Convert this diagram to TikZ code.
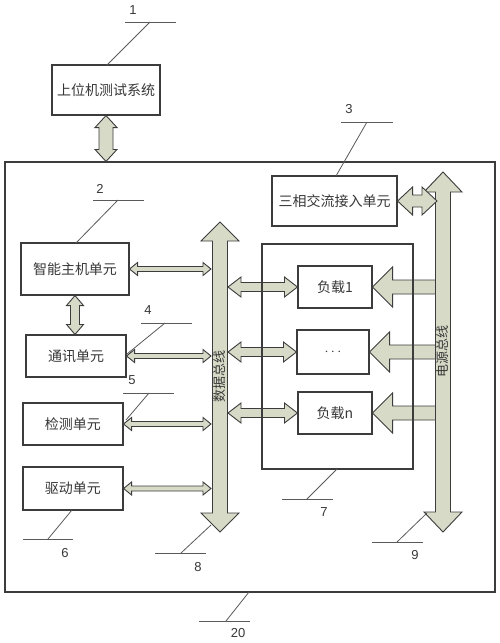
\documentclass[tikz,border=0pt]{standalone}
\usepackage{fontspec}
\setmainfont{Liberation Sans}
\newfontfamily\cjk{Noto Sans CJK SC}
\usetikzlibrary{calc}
\definecolor{barfill}{RGB}{216,218,200}
\definecolor{edgec}{RGB}{60,60,60}
\definecolor{txtc}{RGB}{55,55,55}
\definecolor{leadc}{RGB}{90,90,90}
\newcommand\HDA[5]{\path[barrow] let \p1=(#1), \p2=(#2) in (\x1,\y1) -- (\x1+#5pt,\y1+#4pt) -- (\x1+#5pt,\y1+#3pt) -- (\x2-#5pt,\y1+#3pt) -- (\x2-#5pt,\y1+#4pt) -- (\x2,\y1) -- (\x2-#5pt,\y1-#4pt) -- (\x2-#5pt,\y1-#3pt) -- (\x1+#5pt,\y1-#3pt) -- (\x1+#5pt,\y1-#4pt) -- cycle;}
\newcommand\VDA[5]{\path[barrow] let \p1=(#1), \p2=(#2) in (\x1,\y1) -- (\x1+#4pt,\y1-#5pt) -- (\x1+#3pt,\y1-#5pt) -- (\x1+#3pt,\y2+#5pt) -- (\x1+#4pt,\y2+#5pt) -- (\x1,\y2) -- (\x1-#4pt,\y2+#5pt) -- (\x1-#3pt,\y2+#5pt) -- (\x1-#3pt,\y1-#5pt) -- (\x1-#4pt,\y1-#5pt) -- cycle;}
\newcommand\LSA[5]{\path[barrow] let \p1=(#1), \p2=(#2) in (\x2,\y2) -- (\x2+#5pt,\y2+#4pt) -- (\x2+#5pt,\y2+#3pt) -- (\x1,\y2+#3pt) -- (\x1,\y2-#3pt) -- (\x2+#5pt,\y2-#3pt) -- (\x2+#5pt,\y2-#4pt) -- cycle;}
\begin{document}
\begin{tikzpicture}[x=1pt,y=-1pt,
  box/.style={draw=edgec, line width=1.1pt, fill=white, inner sep=0pt, text=txtc, font=\cjk\fontsize{14}{16}\selectfont},
  frame/.style={draw=edgec, line width=1.1pt, inner sep=0pt},
  barrow/.style={draw=edgec, line width=0.9pt, fill=barfill, line join=miter},
  lead/.style={draw=leadc, line width=0.8pt},
  num/.style={text=txtc, font=\fontsize{13}{13}\selectfont, inner sep=0pt},
  buslbl/.style={rotate=90, text=txtc, font=\cjk\fontsize{13}{13}\selectfont, inner sep=0pt}]
\useasboundingbox (0,0) rectangle (500,643);
\fill[white] (0,0) rectangle (500,643);

% outer frame
\node[frame, minimum width=490pt, minimum height=430pt] (outer) at (250,377) {};

% boxes
\node[box, minimum width=108pt, minimum height=50pt] (host) at (106,90) {上位机测试系统};
\node[box, minimum width=108pt, minimum height=52pt] (main) at (75,269) {智能主机单元};
\node[box, minimum width=100pt, minimum height=42pt] (comm) at (76,356) {通讯单元};
\node[box, minimum width=100pt, minimum height=42pt] (det) at (73,424) {检测单元};
\node[box, minimum width=100pt, minimum height=43pt] (drv) at (73,488.5) {驱动单元};
\node[box, minimum width=125pt, minimum height=50pt] (three) at (334.5,201) {三相交流接入单元};
\node[box, minimum width=74pt, minimum height=42pt] (load1) at (335,287) {负载1};
\node[box, minimum width=72pt, minimum height=44pt] (loadd) at (333,352) {\fontspec{Liberation Sans}$\cdots$};
\node[box, minimum width=74pt, minimum height=42pt] (loadn) at (335,413) {负载n};

% bus coordinates
\coordinate (dtop) at (220,222);
\coordinate (dbot) at (220,532);
\coordinate (dbin) at (211,0);
\coordinate (dbout) at (228,0);
\coordinate (ptop) at (443,172);
\coordinate (pbot) at (443,532);
\coordinate (pin) at (435.5,0);
\coordinate (pend) at (437,0);

% buses
\VDA{dtop}{dbot}{7.5}{19}{19}
\VDA{ptop}{pbot}{7.5}{19}{20}
\node[buslbl] (dlabel) at (220,376) {数据总线};
\node[buslbl] (plabel) at (443,351) {电源总线};

% vertical connectors
\VDA{host.south}{host.south |- outer.north}{7}{11}{12}
\VDA{main.south}{main.south |- comm.north}{4.5}{8.5}{10}

% unit to data bus
\HDA{main.east}{dbin |- main.east}{2.5}{6.5}{8}
\HDA{comm.east}{dbin |- comm.east}{2.5}{6.5}{8}
\HDA{det.east}{dbin |- det.east}{2.5}{6.5}{8}
\HDA{drv.east}{dbin |- drv.east}{2.5}{6.5}{8}

% data bus to loads
\HDA{dbout |- load1.west}{load1.west}{4.5}{10}{13}
\HDA{dbout |- loadd.west}{loadd.west}{4.5}{10}{13}
\HDA{dbout |- loadn.west}{loadn.west}{4.5}{10}{13}

% power bus to loads
\LSA{pin |- load1.east}{load1.east}{7}{20}{20}
\LSA{pin |- loadd.east}{loadd.east}{7}{20}{20}
\LSA{pin |- loadn.east}{loadn.east}{7}{20}{20}

% three-phase to power bus
\HDA{three.east}{pend |- three.east}{6}{14}{15}

% load group frame
\node[frame, minimum width=151pt, minimum height=225pt] (grp) at (337.5,356.5) {};

% labels
\coordinate (u1a) at (125,22); \coordinate (u1b) at (176,22); \coordinate (u1k) at (150,22); \coordinate (t1) at (107,65);
\node[num] (n1) at (133,10) {1};
\draw[lead] (u1a) -- (u1b); \draw[lead] (u1k) -- (t1);

\coordinate (u2a) at (93,200); \coordinate (u2b) at (144,200); \coordinate (u2k) at (118,200); \coordinate (t2) at (76,243);
\node[num] (n2) at (100,189) {2};
\draw[lead] (u2a) -- (u2b); \draw[lead] (u2k) -- (t2);

\coordinate (u3a) at (341,122); \coordinate (u3b) at (393,122); \coordinate (u3k) at (367,122); \coordinate (t3) at (336,176);
\node[num] (n3) at (349,109) {3};
\draw[lead] (u3a) -- (u3b); \draw[lead] (u3k) -- (t3);

\coordinate (u4a) at (141,323); \coordinate (u4b) at (192,323); \coordinate (u4k) at (165,323); \coordinate (t4) at (127,354);
\node[num] (n4) at (148,310) {4};
\draw[lead] (u4a) -- (u4b); \draw[lead] (u4k) -- (t4);

\coordinate (u5a) at (123,393); \coordinate (u5b) at (174,393); \coordinate (u5k) at (149,393); \coordinate (t5) at (126,420);
\node[num] (n5) at (132,380) {5};
\draw[lead] (u5a) -- (u5b); \draw[lead] (u5k) -- (t5);

\coordinate (u6a) at (23,539); \coordinate (u6b) at (73,539); \coordinate (u6k) at (48,539); \coordinate (t6) at (72,510);
\node[num] (n6) at (65,553) {6};
\draw[lead] (u6a) -- (u6b); \draw[lead] (u6k) -- (t6);

\coordinate (u7a) at (282,499); \coordinate (u7b) at (333,499); \coordinate (u7k) at (307,499); \coordinate (t7) at (337,469);
\node[num] (n7) at (324,512) {7};
\draw[lead] (u7a) -- (u7b); \draw[lead] (u7k) -- (t7);

\coordinate (u8a) at (155,553); \coordinate (u8b) at (206,553); \coordinate (u8k) at (181,553); \coordinate (t8) at (211,525);
\node[num] (n8) at (198,567) {8};
\draw[lead] (u8a) -- (u8b); \draw[lead] (u8k) -- (t8);

\coordinate (u9a) at (372,542); \coordinate (u9b) at (423,542); \coordinate (u9k) at (397,542); \coordinate (t9) at (427,513);
\node[num] (n9) at (415,555) {9};
\draw[lead] (u9a) -- (u9b); \draw[lead] (u9k) -- (t9);

\coordinate (u20a) at (199,621); \coordinate (u20b) at (250,621); \coordinate (u20k) at (226,621); \coordinate (t20) at (249,592);
\node[num] (n20) at (238,633) {20};
\draw[lead] (u20a) -- (u20b); \draw[lead] (u20k) -- (t20);
\end{tikzpicture}
\end{document}
